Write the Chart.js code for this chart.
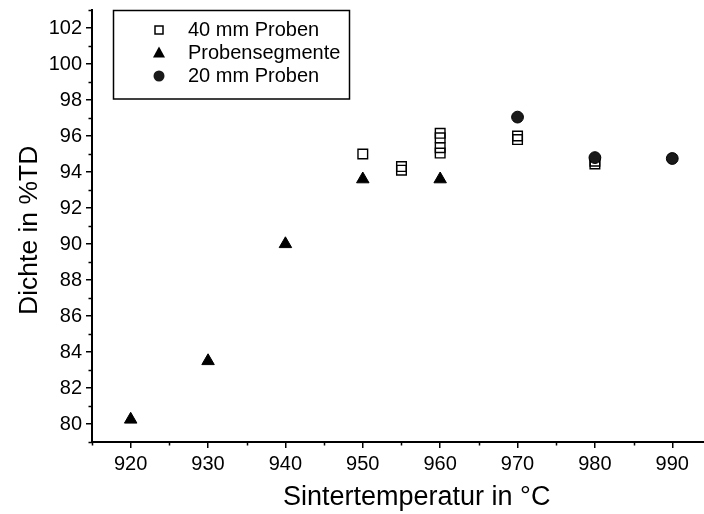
<!DOCTYPE html>
<html><head><meta charset="utf-8">
<script src="https://cdn.jsdelivr.net/npm/chart.js@4/dist/chart.umd.min.js"></script>
<style>html,body{margin:0;padding:0;background:#fff}#wrap{width:704px;height:514px;position:relative}</style>
</head><body><div id="wrap"><canvas id="c" width="704" height="514"></canvas></div>
<script>
const xTickValues = [920, 930, 940, 950, 960, 970, 980, 990];
const xMinorTicks = [915, 925, 935, 945, 955, 965, 975, 985];
const yTickValues = [80, 82, 84, 86, 88, 90, 92, 94, 96, 98, 100, 102];
const yMinorTicks = [79, 81, 83, 85, 87, 89, 91, 93, 95, 97, 99, 101, 103];
const proben40X = [950, 955, 955, 960, 960, 960, 960, 970, 970, 980, 980];
const proben40Y = [95.0, 94.3, 94.1, 96.15, 95.9, 95.35, 95.05, 96.0, 95.8, 94.45, 94.6];
const segmentX = [920, 930, 940, 950, 960];
const segmentY = [80.25, 83.5, 90.0, 93.6, 93.6];
const proben20X = [970, 980, 990];
const proben20Y = [97.05, 94.8, 94.75];
const seriesNames = ['40 mm Proben', 'Probensegmente', '20 mm Proben'];
const xTitle = 'Sintertemperatur in °C';
const yTitle = 'Dichte in %TD';

const FONT = '"Liberation Sans", Arial, Helvetica, sans-serif';
const toPts = (xs, ys) => xs.map((x, i) => ({x: x, y: ys[i]}));

const minorTicksPlugin = {
  id: 'minorTicks',
  afterDraw(chart) {
    const ctx = chart.ctx, xs = chart.scales.x, ys = chart.scales.y;
    ctx.save();
    ctx.strokeStyle = '#000'; ctx.lineWidth = 1.5;
    ctx.beginPath();
    xMinorTicks.forEach(v => {
      const px = Math.round(xs.getPixelForValue(v)) + 0.5;
      ctx.moveTo(px, xs.top); ctx.lineTo(px, xs.top + 3.5);
    });
    yMinorTicks.forEach(v => {
      const py = Math.round(ys.getPixelForValue(v)) + 0.5;
      ctx.moveTo(ys.right, py); ctx.lineTo(ys.right - 3.5, py);
    });
    ctx.stroke();
    ctx.restore();
  }
};

const titlesPlugin = {
  id: 'axisTitles',
  afterDraw(chart) {
    const ctx = chart.ctx;
    ctx.save();
    ctx.fillStyle = '#000';
    ctx.textBaseline = 'alphabetic';
    ctx.textAlign = 'left';
    ctx.font = '27px ' + FONT;
    ctx.fillText(xTitle, 283, 505);
    ctx.translate(37, 315);
    ctx.rotate(-Math.PI / 2);
    ctx.font = '26.5px ' + FONT;
    ctx.fillText(yTitle, 0, 0);
    ctx.restore();
  }
};

const legendBoxPlugin = {
  id: 'legendBox',
  afterDraw(chart) {
    const ctx = chart.ctx;
    ctx.save();
    ctx.strokeStyle = '#000'; ctx.lineWidth = 1.5;
    ctx.strokeRect(113.5, 10.5, 236, 88.5);
    const mx = 159, tx = 188, rows = [30, 53, 76];
    ctx.lineWidth = 1.5;
    ctx.strokeRect(mx - 4, rows[0] - 4, 8, 8);
    ctx.fillStyle = '#000';
    ctx.beginPath();
    ctx.moveTo(mx, rows[1] - 6.5); ctx.lineTo(mx + 6, rows[1] + 4.5); ctx.lineTo(mx - 6, rows[1] + 4.5); ctx.closePath();
    ctx.fill();
    ctx.fillStyle = '#1a1a1a';
    ctx.beginPath(); ctx.arc(mx, rows[2], 5.5, 0, Math.PI * 2); ctx.fill();
    ctx.fillStyle = '#000';
    ctx.font = '20px ' + FONT;
    ctx.textBaseline = 'middle';
    ctx.textAlign = 'left';
    seriesNames.forEach((n, i) => ctx.fillText(n, tx, rows[i]));
    ctx.restore();
  }
};

new Chart(document.getElementById('c'), {
  type: 'scatter',
  data: {
    datasets: [
      {label: seriesNames[0], data: toPts(proben40X, proben40Y), pointStyle: 'rect', pointRadius: 6.8,
       backgroundColor: 'rgba(255,255,255,0)', borderColor: '#000', borderWidth: 1.4, order: 2},
      {label: seriesNames[1], data: toPts(segmentX, segmentY), pointStyle: 'triangle', pointRadius: 7.2,
       backgroundColor: '#000', borderColor: '#000', borderWidth: 1, order: 1},
      {label: seriesNames[2], data: toPts(proben20X, proben20Y), pointStyle: 'circle', pointRadius: 5.9,
       backgroundColor: '#1a1a1a', borderColor: '#000', borderWidth: 1, order: 0}
    ]
  },
  options: {
    responsive: false,
    devicePixelRatio: 1,
    animation: false,
    layout: {autoPadding: false, padding: {left: 0, right: 0, top: 10, bottom: 0}},
    plugins: {legend: {display: false}, tooltip: {enabled: false}},
    scales: {
      x: {
        type: 'linear', min: 915, max: 994.1,
        afterBuildTicks: s => { s.ticks = xTickValues.map(v => ({value: v})); },
        afterFit: s => { s.height = 72; s.paddingLeft = 0; s.paddingRight = 0; },
        grid: {drawOnChartArea: false, drawTicks: true, tickLength: 6, color: '#000', lineWidth: 1.5},
        border: {display: true, color: '#000', width: 2},
        ticks: {color: '#000', font: {family: FONT, size: 20}, padding: 4, maxRotation: 0, autoSkip: false},
        title: {display: false}
      },
      y: {
        type: 'linear', min: 79, max: 103,
        afterBuildTicks: s => { s.ticks = yTickValues.map(v => ({value: v})); },
        afterFit: s => { s.width = 92; s.paddingTop = 0; s.paddingBottom = 0; },
        grid: {drawOnChartArea: false, drawTicks: true, tickLength: 6, color: '#000', lineWidth: 1.5},
        border: {display: true, color: '#000', width: 2},
        ticks: {color: '#000', font: {family: FONT, size: 20}, padding: 4, autoSkip: false},
        title: {display: false}
      }
    }
  },
  plugins: [minorTicksPlugin, legendBoxPlugin, titlesPlugin]
});
</script>
</body></html>
